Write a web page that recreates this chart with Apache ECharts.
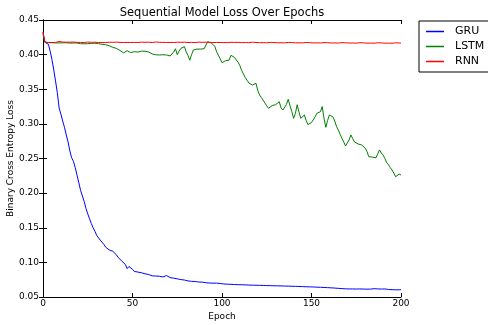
<!DOCTYPE html>
<html>
<head>
<meta charset="utf-8">
<script src="https://cdn.jsdelivr.net/npm/echarts@6/dist/echarts.min.js"></script>
<style>
  html, body { margin: 0; padding: 0; background: #fff; }
  #chart { width: 488px; height: 325px; }
</style>
</head>
<body>
<div id="chart"></div>
<script>
// loss per epoch (index = epoch)
const seriesNames = ["GRU", "LSTM", "RNN"];
const xTicks = [0, 50, 100, 150, 200];
const yTicks = [0.05, 0.10, 0.15, 0.20, 0.25, 0.30, 0.35, 0.40, 0.45];

const gruLoss = [
  0.4320, 0.4180, 0.4165, 0.4150, 0.4050, 0.3930, 0.3780, 0.3620, 0.3450, 0.3230,
  0.3140, 0.3040, 0.2950, 0.2840, 0.2740, 0.2610, 0.2510, 0.2460, 0.2370, 0.2260,
  0.2150, 0.2040, 0.2050, 0.1880, 0.1780, 0.1700, 0.1630, 0.1560, 0.1500, 0.1450,
  0.1390, 0.1370, 0.1320, 0.1300, 0.1260, 0.1220, 0.1200, 0.1180, 0.1160, 0.1160,
  0.1150, 0.1110, 0.1070, 0.1050, 0.1020, 0.1000, 0.0970, 0.0910, 0.0940, 0.0930,
  0.0900, 0.0870, 0.0880, 0.0860, 0.0870, 0.0850, 0.0840, 0.0835, 0.0830, 0.0825,
  0.0810, 0.0805, 0.0812, 0.0803, 0.0806, 0.0800, 0.0795, 0.0790, 0.0785, 0.0810,
  0.0785, 0.0780, 0.0775, 0.0772, 0.0765, 0.0762, 0.0755, 0.0752, 0.0748, 0.0745,
  0.0740, 0.0732, 0.0730, 0.0726, 0.0730, 0.0724, 0.0720, 0.0716, 0.0712, 0.0715,
  0.0710, 0.0706, 0.0710, 0.0702, 0.0705, 0.0700, 0.0693, 0.0700, 0.0692, 0.0695,
  0.0690, 0.0688, 0.0692, 0.0685, 0.0688, 0.0683, 0.0686, 0.0680, 0.0684, 0.0678,
  0.0681, 0.0677, 0.0680, 0.0675, 0.0678, 0.0672, 0.0674, 0.0671, 0.0673, 0.0670,
  0.0672, 0.0668, 0.0670, 0.0667, 0.0669, 0.0665, 0.0668, 0.0664, 0.0666, 0.0662,
  0.0665, 0.0661, 0.0663, 0.0660, 0.0662, 0.0658, 0.0661, 0.0657, 0.0659, 0.0655,
  0.0660, 0.0654, 0.0656, 0.0652, 0.0655, 0.0650, 0.0652, 0.0648, 0.0650, 0.0646,
  0.0648, 0.0645, 0.0646, 0.0642, 0.0644, 0.0640, 0.0641, 0.0638, 0.0639, 0.0635,
  0.0636, 0.0632, 0.0633, 0.0629, 0.0628, 0.0625, 0.0624, 0.0621, 0.0620, 0.0618,
  0.0617, 0.0616, 0.0615, 0.0616, 0.0614, 0.0615, 0.0614, 0.0616, 0.0620, 0.0615,
  0.0617, 0.0613, 0.0618, 0.0614, 0.0616, 0.0620, 0.0614, 0.0617, 0.0612, 0.0615,
  0.0611, 0.0616, 0.0610, 0.0609, 0.0607, 0.0606, 0.0605, 0.0604, 0.0605, 0.0604,
  0.0606
];

const lstmLoss = [
  0.4300, 0.4180, 0.4172, 0.4175, 0.4170, 0.4174, 0.4171, 0.4168, 0.4172, 0.4170,
  0.4175, 0.4170, 0.4168, 0.4172, 0.4170, 0.4166, 0.4170, 0.4168, 0.4165, 0.4168,
  0.4162, 0.4158, 0.4160, 0.4156, 0.4160, 0.4158, 0.4160, 0.4162, 0.4165, 0.4164,
  0.4160, 0.4158, 0.4154, 0.4150, 0.4146, 0.4142, 0.4140, 0.4128, 0.4115, 0.4105,
  0.4095, 0.4090, 0.4075, 0.4060, 0.4045, 0.4025, 0.4030, 0.4057, 0.4050, 0.4030,
  0.4040, 0.4042, 0.4035, 0.4037, 0.4045, 0.4050, 0.4057, 0.4050, 0.4030, 0.4038,
  0.4025, 0.4010, 0.4005, 0.3998, 0.3995, 0.3995, 0.4002, 0.3998, 0.3995, 0.3995,
  0.3990, 0.3980, 0.4000, 0.4037, 0.4085, 0.4000, 0.4050, 0.4090, 0.4070, 0.4115,
  0.4040, 0.3990, 0.3920, 0.4000, 0.4067, 0.4070, 0.4080, 0.4075, 0.4080, 0.4082,
  0.4085, 0.4090, 0.4187, 0.4160, 0.4168, 0.4154, 0.4120, 0.4040, 0.3990, 0.3940,
  0.3884, 0.3900, 0.3912, 0.3915, 0.3922, 0.3990, 0.4015, 0.3960, 0.3922, 0.3890,
  0.3840, 0.3770, 0.3720, 0.3670, 0.3630, 0.3590, 0.3570, 0.3560, 0.3555, 0.3586,
  0.3480, 0.3417, 0.3380, 0.3360, 0.3300, 0.3260, 0.3225, 0.3250, 0.3265, 0.3270,
  0.3277, 0.3300, 0.3320, 0.3230, 0.3200, 0.3210, 0.3280, 0.3355, 0.3260, 0.3180,
  0.3080, 0.3150, 0.3277, 0.3170, 0.3080, 0.3100, 0.3128, 0.3050, 0.2990, 0.2970,
  0.3020, 0.3030, 0.3100, 0.3153, 0.3160, 0.3176, 0.3250, 0.3080, 0.2950, 0.3050,
  0.3128, 0.3120, 0.3100, 0.3040, 0.2960, 0.2910, 0.2850, 0.2790, 0.2740, 0.2680,
  0.2670, 0.2767, 0.2840, 0.2790, 0.2740, 0.2720, 0.2710, 0.2700, 0.2695, 0.2670,
  0.2650, 0.2600, 0.2526, 0.2530, 0.2520, 0.2510, 0.2510, 0.2503, 0.2623, 0.2580,
  0.2550, 0.2500, 0.2440, 0.2410, 0.2370, 0.2334, 0.2290, 0.2237, 0.2250, 0.2276,
  0.2260
];

const rnnLoss = [
  0.4330, 0.4185, 0.4175, 0.4172, 0.4178, 0.4174, 0.4180, 0.4176, 0.4178, 0.4190,
  0.4210, 0.4182, 0.4176, 0.4179, 0.4175, 0.4180, 0.4177, 0.4182, 0.4178, 0.4176,
  0.4180, 0.4176, 0.4179, 0.4174, 0.4177, 0.4181, 0.4175, 0.4178, 0.4176, 0.4179,
  0.4177, 0.4175, 0.4180, 0.4176, 0.4178, 0.4174, 0.4177, 0.4179, 0.4175, 0.4178,
  0.4176, 0.4180, 0.4175, 0.4177, 0.4179, 0.4174, 0.4178, 0.4176, 0.4181, 0.4175,
  0.4178, 0.4176, 0.4179, 0.4175, 0.4177, 0.4180, 0.4174, 0.4178, 0.4176, 0.4179,
  0.4177, 0.4175, 0.4178, 0.4182, 0.4176, 0.4178, 0.4174, 0.4177, 0.4179, 0.4175,
  0.4178, 0.4176, 0.4180, 0.4175, 0.4177, 0.4179, 0.4174, 0.4178, 0.4176, 0.4179,
  0.4177, 0.4175, 0.4179, 0.4176, 0.4178, 0.4174, 0.4177, 0.4180, 0.4175, 0.4178,
  0.4176, 0.4179, 0.4175, 0.4177, 0.4181, 0.4174, 0.4178, 0.4176, 0.4179, 0.4175,
  0.4176, 0.4174, 0.4177, 0.4173, 0.4175, 0.4178, 0.4172, 0.4176, 0.4174, 0.4177,
  0.4175, 0.4173, 0.4176, 0.4174, 0.4177, 0.4172, 0.4175, 0.4179, 0.4173, 0.4176,
  0.4174, 0.4172, 0.4175, 0.4173, 0.4176, 0.4171, 0.4174, 0.4177, 0.4172, 0.4175,
  0.4173, 0.4171, 0.4174, 0.4172, 0.4175, 0.4170, 0.4173, 0.4176, 0.4171, 0.4174,
  0.4172, 0.4170, 0.4173, 0.4171, 0.4174, 0.4169, 0.4172, 0.4175, 0.4170, 0.4173,
  0.4171, 0.4169, 0.4172, 0.4170, 0.4173, 0.4168, 0.4171, 0.4174, 0.4169, 0.4172,
  0.4170, 0.4168, 0.4171, 0.4169, 0.4172, 0.4167, 0.4170, 0.4173, 0.4168, 0.4171,
  0.4169, 0.4167, 0.4170, 0.4168, 0.4171, 0.4166, 0.4169, 0.4172, 0.4167, 0.4170,
  0.4168, 0.4166, 0.4169, 0.4167, 0.4170, 0.4165, 0.4168, 0.4171, 0.4166, 0.4169,
  0.4167, 0.4166, 0.4168, 0.4166, 0.4169, 0.4165, 0.4167, 0.4170, 0.4166, 0.4168,
  0.4167
];

const colors = ["#0000ff", "#008000", "#ff0000"];
const font = "DejaVu Sans";

function toPoints(arr) {
  return arr.map((v, i) => [i, v]);
}

const chart = echarts.init(document.getElementById("chart"), null, { renderer: "canvas" });

const axisLine = { show: true, lineStyle: { color: "#000", width: 1 } };
const tickIn = { show: true, inside: true, length: 4, lineStyle: { color: "#000", width: 1 } };
const smallText = { fontFamily: font, fontSize: 9, color: "#000" };

const option = {
  backgroundColor: "#fff",
  animation: false,
  textStyle: { fontFamily: font },
  title: {
    text: "Sequential Model Loss Over Epochs",
    left: 222,
    top: 7,
    padding: 0,
    textAlign: "center",
    textStyle: { fontFamily: font, fontSize: 11.5, fontWeight: "normal", color: "#000" }
  },
  legend: {
    data: seriesNames,
    orient: "vertical",
    left: 419,
    top: 21,
    padding: [5, 6, 5, 7],
    icon: "path://M0,0H18V1.5H0Z",
    itemWidth: 18,
    itemHeight: 12,
    itemGap: 4,
    borderColor: "#000",
    borderWidth: 1,
    borderRadius: 0,
    textStyle: { fontFamily: font, fontSize: 11, color: "#000", padding: [0, 0, 0, 6] }
  },
  grid: {
    left: 43, top: 20, right: 87, bottom: 28,
    containLabel: false,
    outerBoundsMode: "none"
  },
  xAxis: [
    {
      type: "value",
      min: xTicks[0],
      max: xTicks[xTicks.length - 1],
      interval: 50,
      name: "Epoch",
      nameLocation: "middle",
      nameGap: 15,
      nameMoveOverlap: false,
      nameTextStyle: smallText,
      axisLine: axisLine,
      axisTick: tickIn,
      axisLabel: Object.assign({ margin: 2 }, smallText),
      splitLine: { show: false }
    },
    {
      type: "value",
      position: "top",
      min: xTicks[0],
      max: xTicks[xTicks.length - 1],
      interval: 50,
      axisLine: axisLine,
      axisTick: tickIn,
      axisLabel: { show: false },
      splitLine: { show: false }
    }
  ],
  yAxis: [
    {
      type: "value",
      min: yTicks[0],
      max: yTicks[yTicks.length - 1],
      interval: 0.05,
      name: "Binary Cross Entropy Loss",
      nameLocation: "middle",
      nameGap: 28,
      nameMoveOverlap: false,
      nameTextStyle: smallText,
      axisLine: axisLine,
      axisTick: tickIn,
      axisLabel: Object.assign({ margin: 4, formatter: v => v.toFixed(2) }, smallText),
      splitLine: { show: false }
    },
    {
      type: "value",
      position: "right",
      min: yTicks[0],
      max: yTicks[yTicks.length - 1],
      interval: 0.05,
      axisLine: axisLine,
      axisTick: tickIn,
      axisLabel: { show: false },
      splitLine: { show: false }
    }
  ],
  series: [gruLoss, lstmLoss, rnnLoss].map((arr, k) => ({
    name: seriesNames[k],
    type: "line",
    data: toPoints(arr),
    symbol: "none",
    color: colors[k],
    lineStyle: { width: 1, color: colors[k] },
    xAxisIndex: 0,
    yAxisIndex: 0
  }))
};

chart.setOption(option);
</script>
</body>
</html>
